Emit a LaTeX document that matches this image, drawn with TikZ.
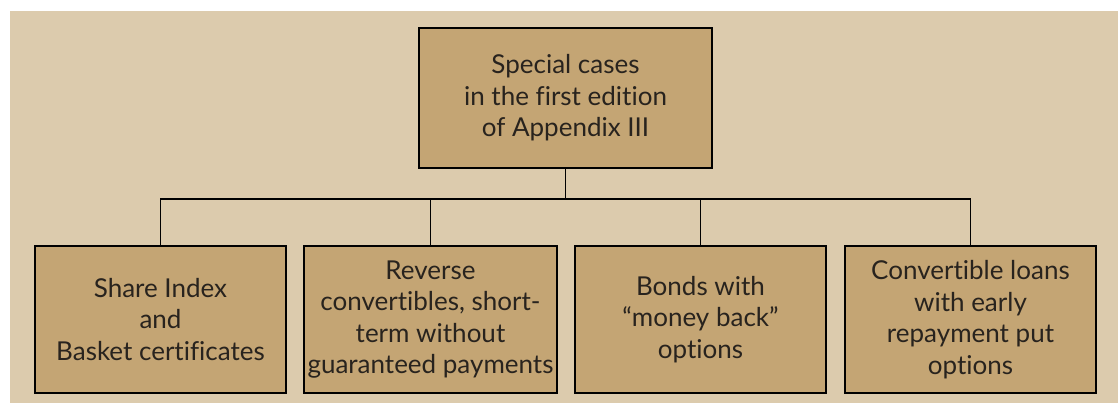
\documentclass[tikz,border=0pt]{standalone}
\usepackage{fontspec}
\setmainfont{Lato}[Ligatures=NoCommon]
\usetikzlibrary{positioning}
\definecolor{bgtan}{RGB}{220,203,173}
\definecolor{boxtan}{RGB}{196,165,116}
\definecolor{inkdark}{RGB}{40,35,30}
\tikzset{casebox/.style = {draw=black, fill=boxtan, line width=1pt,
                           text=inkdark, align=center, inner sep=2pt,
                           font=\fontsize{13}{15.75}\selectfont},
         topbox/.style = {casebox, minimum width=146.5pt, minimum height=70pt},
         subbox/.style = {casebox, minimum width=125.5pt, minimum height=73.5pt},
         link/.style = {draw=black, line width=0.8pt}}

\begin{document}
\begin{tikzpicture}[x=0.5pt, y=-0.5pt]
      \useasboundingbox (0, 0) rectangle (1118, 403);
      \fill [bgtan] (10, 11) rectangle (1118, 403);

      \node [topbox] (special) at (565.5, 98)
            {Special cases\\in the first edition\\of Appendix III};

      \node [subbox] (share) at (160.5, 319.5)
            {Share Index\\and\\Basket certificates};
      \node [subbox] (reverse) at (430.5, 319.5)
            {Reverse\\convertibles, short-\\term without\\guaranteed payments};
      \node [subbox] (bonds) at (700.5, 319.5)
            {Bonds with\\``money back''\\options};
      \node [subbox] (convloan) at (970.5, 319.5)
            {Convertible loans\\with early\\repayment put\\options};

      \coordinate (bus) at (special.south |- 0, 199);

      \draw [link] (special.south) -- (bus);
      \draw [link] (share.north) |- (bus) -| (convloan.north);
      \draw [link] (reverse.north) -- (reverse.north |- bus);
      \draw [link] (bonds.north) -- (bonds.north |- bus);
    \end{tikzpicture}
\end{document}
